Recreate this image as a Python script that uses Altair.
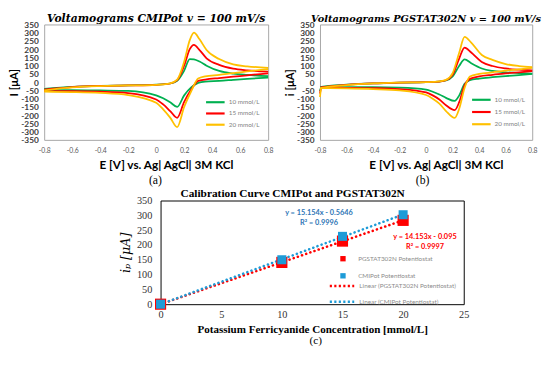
import altair as alt
import pandas as pd

# ---------------- data: cyclic voltammograms ----------------
CONC_LABELS = ["10 mmol/L", "15 mmol/L", "20 mmol/L"]
CV_COLORS = ["#00b050", "#ff0000", "#ffc000"]

# Panel (a) CMIPot
A_E_UP = [-0.8, -0.6, -0.4, -0.2, 0.0, 0.1, 0.15, 0.2, 0.24, 0.27, 0.31, 0.36, 0.45, 0.55, 0.65, 0.8]
A_UP_10 = [-40, -28, -22, -19, -15, -8, 8, 70, 140, 138, 125, 100, 68, 52, 44, 36]
A_UP_15 = [-45, -30, -23, -20, -16, -8, 12, 100, 200, 226, 195, 145, 105, 82, 72, 64]
A_UP_20 = [-50, -32, -24, -20, -16, -7, 15, 125, 255, 300, 260, 195, 140, 108, 96, 87]
A_E_LO = [-0.8, -0.6, -0.4, -0.2, 0.0, 0.05, 0.1, 0.15, 0.2, 0.25, 0.3, 0.35, 0.45, 0.55, 0.65, 0.8]
A_LO_10 = [-48, -48, -50, -53, -80, -98, -122, -150, -80, -32, -4, 4, 8, 14, 20, 28]
A_LO_15 = [-55, -55, -58, -66, -105, -135, -175, -216, -120, -45, 8, 16, 25, 33, 42, 53]
A_LO_20 = [-58, -60, -65, -78, -125, -165, -215, -272, -150, -55, 22, 35, 44, 55, 65, 80]

# Panel (b) PGSTAT302N
B_E_UP = [-0.8, -0.79, -0.6, -0.4, -0.2, 0.0, 0.1, 0.15, 0.2, 0.25, 0.29, 0.34, 0.42, 0.5, 0.6, 0.7, 0.8]
B_UP_10 = [-55, -28, -15, -7, -3, 0, 4, 10, 35, 100, 139, 115, 83, 68, 60, 55, 52]
B_UP_15 = [-70, -32, -17, -8, -3, 0, 4, 12, 45, 145, 210, 180, 123, 98, 83, 76, 72]
B_UP_20 = [-90, -35, -18, -8, -3, 0, 5, 14, 55, 180, 275, 240, 165, 135, 110, 98, 92]
B_E_LO = [-0.8, -0.6, -0.4, -0.2, 0.0, 0.05, 0.1, 0.15, 0.215, 0.25, 0.29, 0.33, 0.4, 0.5, 0.6, 0.7, 0.8]
B_LO_10 = [-30, -30, -30, -33, -45, -58, -75, -95, -114, -80, -10, 12, 22, 30, 37, 43, 50]
B_LO_15 = [-33, -34, -36, -42, -62, -80, -105, -140, -170, -120, -20, 20, 35, 45, 53, 60, 67]
B_LO_20 = [-36, -38, -42, -50, -78, -100, -130, -175, -217, -160, -35, 35, 50, 60, 70, 78, 87]

# ---------------- data: calibration ----------------
CAL_CONC = [0, 10, 15, 20]
CAL_PGSTAT = [0, 141, 213, 283]
CAL_CMIPOT = [0, 150, 229, 302]
SERIES = ["PGSTAT302N Potentiostat", "CMIPot Potentiostat"]
TRENDS = ["Linear (PGSTAT302N Potentiostat)", "Linear (CMIPot Potentiostat)"]
CAL_COLORS = ["#ff0000", "#1e9bd7"]
EQ_BLUE = ["y = 15.154x - 0.5646", "R² = 0.9996"]
EQ_RED = ["y = 14.153x - 0.095", "R² = 0.9997"]
EQ_BLUE_AT = [13.06, 308]   # annotation anchor in data units
EQ_RED_AT = [21.8, 225]

LINE_SYMBOL = "M-2,0H2"     # legend line glyph, twice as long as the symbol box


def cv_frame(e_up, ups, e_lo, los):
    rows = []
    for lab, up, lo in zip(CONC_LABELS, ups, los):
        for e, v in zip(e_up, up):
            rows.append({"E": e, "I": v, "conc": lab, "branch": lab + " up"})
        for e, v in zip(e_lo, lo):
            rows.append({"E": e, "I": v, "conc": lab, "branch": lab + " lo"})
    return pd.DataFrame(rows)


df_a = cv_frame(A_E_UP, [A_UP_10, A_UP_15, A_UP_20], A_E_LO, [A_LO_10, A_LO_15, A_LO_20])
df_b = cv_frame(B_E_UP, [B_UP_10, B_UP_15, B_UP_20], B_E_LO, [B_LO_10, B_LO_15, B_LO_20])

X_TICKS = [-0.8, -0.6, -0.4, -0.2, 0, 0.2, 0.4, 0.6, 0.8]
Y_TICKS = list(range(-350, 351, 50))


def cv_chart(df, title, tsize, ytitle, width, leg_x, leg_y, leg_rowpad, leg_off):
    return alt.Chart(df).mark_line(strokeWidth=1.8, interpolate="monotone").encode(
        x=alt.X("E:Q", scale=alt.Scale(domain=[-0.8, 0.8], nice=False, zero=False),
                axis=alt.Axis(values=X_TICKS, labelExpr="datum.value + ''", grid=False,
                              ticks=False, domain=False, labelFlush=False, labelOverlap=False,
                              labelFont="Lato", labelFontSize=7, labelColor="#595959",
                              labelPadding=7,
                              title="E [V] vs. Ag| AgCl| 3M KCl", titleFont="Lato",
                              titleFontSize=12, titleFontWeight="bold", titleColor="#000000",
                              titlePadding=6, titleX=width / 2 + 10)),
        y=alt.Y("I:Q", scale=alt.Scale(domain=[-350, 350], nice=False),
                axis=alt.Axis(values=Y_TICKS, labelExpr="datum.value + ''", grid=False,
                              ticks=False, domain=False, labelFlush=False, labelOverlap=False,
                              labelFont="Lato", labelFontSize=8.5, labelFontWeight="bold",
                              labelColor="#404040", labelPadding=6,
                              title=ytitle, titleFont="Lato", titleFontSize=11.5,
                              titleFontWeight="bold", titleColor="#000000", titlePadding=1.5)),
        color=alt.Color("conc:N", scale=alt.Scale(domain=CONC_LABELS, range=CV_COLORS),
                        legend=alt.Legend(title=None, orient="none", legendX=leg_x, legendY=leg_y,
                                          direction="vertical", symbolType=LINE_SYMBOL,
                                          symbolSize=90, symbolStrokeWidth=2.2,
                                          labelFont="Lato", labelFontSize=6.5,
                                          labelColor="#7f7f7f", labelOffset=leg_off,
                                          rowPadding=leg_rowpad, padding=0)),
        detail="branch:N",
        order="E:Q",
    ).properties(
        width=width, height=118,
        view=alt.ViewBackground(stroke="#a6a6a6", strokeWidth=1),
        title=alt.TitleParams(title, font="DejaVu Serif", fontStyle="italic", fontWeight="bold",
                              fontSize=tsize, anchor="middle", frame="group", offset=-3,
                              color="#000000"),
    )


chart_a = cv_chart(df_a, "Voltamograms CMIPot v = 100 mV/s", 11, "I [μA]", 229,
                   169, 73.5, 0.5, 7.75)
chart_b = cv_chart(df_b, "Voltamograms PGSTAT302N v = 100 mV/s", 10, "i [μA]", 217,
                   159, 71, 1.5, 7.4)


def panel_label(txt, dx, offset, size=12):
    return alt.TitleParams(txt, orient="bottom", anchor="middle", font="Liberation Serif",
                           fontSize=size, fontWeight="normal", color="#000000", offset=offset,
                           dx=dx)


a_w = alt.vconcat(chart_a, title=panel_label("(a)", 15, 5)).resolve_scale(color="independent")
b_w = alt.vconcat(chart_b, title=panel_label("(b)", 10, 5)).resolve_scale(color="independent")
top_row = alt.hconcat(a_w, b_w, spacing=10).resolve_scale(color="independent")

# ---------------- calibration chart ----------------
cal_rows = []
for s, vals in zip(SERIES, [CAL_PGSTAT, CAL_CMIPOT]):
    for c, v in zip(CAL_CONC, vals):
        cal_rows.append({"conc": c, "current": v, "series": s})
df_c = pd.DataFrame(cal_rows)

xc = alt.X("conc:Q", scale=alt.Scale(domain=[0, 25], nice=False),
           axis=alt.Axis(values=[0, 5, 10, 15, 20, 25], grid=False, ticks=False, domain=False,
                         labelFlush=False, labelFont="Liberation Serif", labelFontSize=10.5,
                         labelColor="#333333", labelPadding=6,
                         title="Potassium Ferricyanide Concentration [mmol/L]",
                         titleFont="Liberation Serif", titleFontSize=11.3, titleFontWeight="bold",
                         titleColor="#000000", titlePadding=3))
yc = alt.Y("current:Q", scale=alt.Scale(domain=[0, 350], nice=False),
           axis=alt.Axis(values=list(range(0, 351, 50)), grid=False, ticks=False, domain=False,
                         labelFlush=False, labelOverlap=False, labelFont="Liberation Serif",
                         labelFontSize=10.5, labelColor="#333333", labelPadding=9,
                         title="iₚ [μA]", titleFont="DejaVu Serif", titleFontStyle="italic",
                         titleFontWeight="normal", titleFontSize=13, titleColor="#000000",
                         titlePadding=4))

trend = alt.Chart(df_c).transform_regression(
    "conc", "current", groupby=["series"]
).transform_calculate(
    trend='"Linear (" + datum.series + ")"'
).mark_line(strokeWidth=2.6, strokeDash=[0.1, 4.4], strokeCap="round").encode(
    x=xc, y=yc,
    color=alt.Color("trend:N", scale=alt.Scale(domain=TRENDS, range=CAL_COLORS),
                    legend=alt.Legend(title=None, orient="none", legendX=178, legendY=80,
                                      direction="vertical", symbolType=LINE_SYMBOL,
                                      symbolSize=156, symbolStrokeWidth=2.5,
                                      symbolDash=[2.2, 2.4],
                                      labelFont="Lato", labelFontSize=6.5, labelColor="#8c8c8c",
                                      labelOffset=10.25, rowPadding=3, padding=0)),
)

points = alt.Chart(df_c).mark_square(opacity=1).encode(
    x=xc, y=yc,
    color=alt.Color("series:N", scale=alt.Scale(domain=SERIES, range=CAL_COLORS),
                    legend=alt.Legend(title=None, orient="none", legendX=183, legendY=56,
                                      direction="vertical", symbolType="square", symbolSize=30,
                                      labelFont="Lato", labelFontSize=6.5, labelColor="#8c8c8c",
                                      labelOffset=12, rowPadding=10.5, padding=0)),
    size=alt.Size("series:N", scale=alt.Scale(domain=SERIES, range=[130, 85]), legend=None),
)

eq_df = pd.DataFrame({
    "conc": [EQ_BLUE_AT[0], EQ_RED_AT[0]],
    "current": [EQ_BLUE_AT[1], EQ_RED_AT[1]],
    "txt": [EQ_BLUE, EQ_RED],
    "col": ["#2e75b6", "#ff0000"],
})
eqs = alt.Chart(eq_df).mark_text(font="Lato", fontSize=7.5, fontWeight="bold", lineHeight=10,
                                 align="center", baseline="middle").encode(
    x=xc, y=yc, text="txt", color=alt.Color("col:N", scale=None),
)

chart_c = alt.layer(trend, points, eqs).resolve_scale(color="independent").properties(
    width=310, height=106,
    view=alt.ViewBackground(stroke="#000000", strokeWidth=1),
    title=alt.TitleParams("Calibration Curve CMIPot and PGSTAT302N", font="Liberation Serif",
                          fontSize=11.6, fontWeight="bold", anchor="middle", frame="group", dx=-20,
                          offset=-4, color="#000000"),
)
c_w = alt.vconcat(chart_c, title=panel_label("(c)", 22, 0, 11.5)).resolve_scale(color="independent")

spacer = alt.Chart(pd.DataFrame({"v": [0]})).mark_point(opacity=0).encode(
    x=alt.value(0), y=alt.value(0)
).properties(width=75, height=10, view=alt.ViewBackground(stroke="transparent"))

bottom_row = alt.hconcat(spacer, c_w, spacing=0).resolve_scale(color="independent")

chart = alt.vconcat(top_row, bottom_row, spacing=0).resolve_scale(
    color="independent"
).properties(padding=0, background="#ffffff")

chart.save("out.html", embed_options={"renderer": "svg", "actions": False})
